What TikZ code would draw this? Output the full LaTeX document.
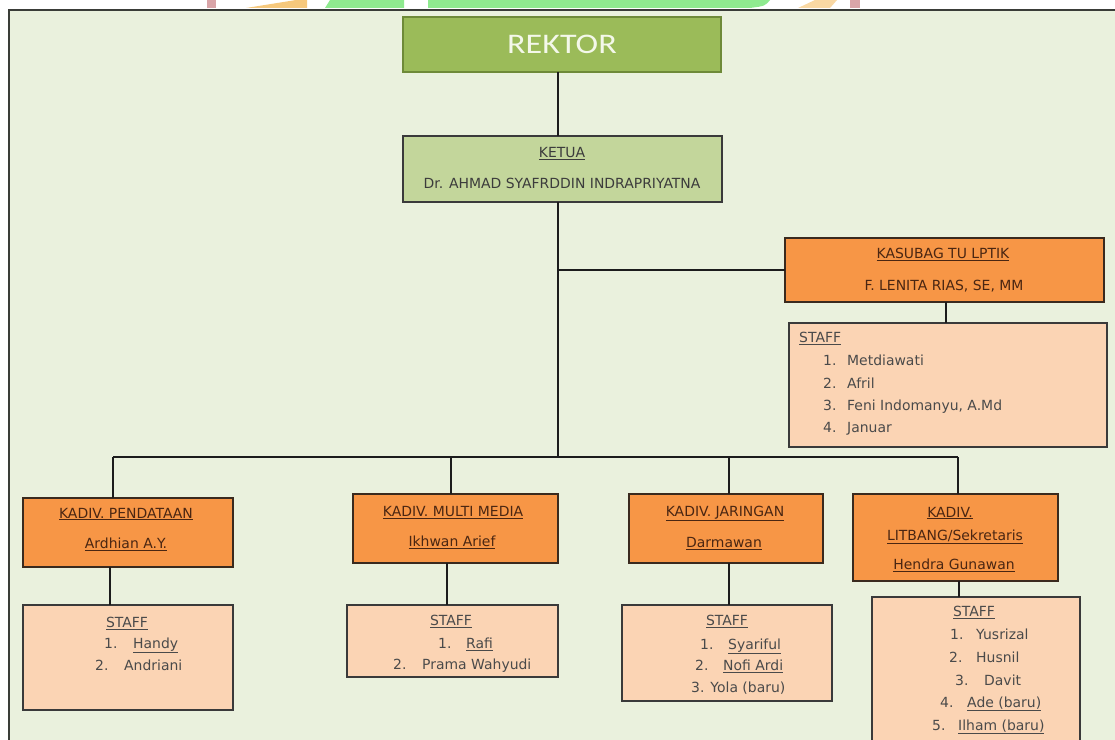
\documentclass[tikz,border=0pt]{standalone}
\usepackage{fontspec}
\setmainfont{DejaVu Sans}
\newfontfamily\headfont[FakeStretch=1.2]{Carlito}

\definecolor{bgc}{HTML}{EAF1DD}
\definecolor{framec}{HTML}{3A3D38}
\definecolor{rekfill}{HTML}{9BBB59}
\definecolor{rekline}{HTML}{6E8A38}
\definecolor{rektext}{HTML}{F4F8EA}
\definecolor{ketfill}{HTML}{C3D69B}
\definecolor{boxline}{HTML}{3A3A3A}
\definecolor{kadfill}{HTML}{F79646}
\definecolor{kadline}{HTML}{3A2A1E}
\definecolor{stafill}{HTML}{FBD4B4}
\definecolor{linkc}{HTML}{1C1C1C}
\definecolor{kettext}{HTML}{3C3C3C}
\definecolor{kadtext}{HTML}{4A2612}
\definecolor{statext}{HTML}{4A4A4A}
\definecolor{wmgreen}{HTML}{8FEA8F}
\definecolor{wmorange}{HTML}{F6C87C}
\definecolor{wmpink}{HTML}{D9A5A8}

\newcommand{\ulin}[1]{\underline{#1}}

\begin{document}
\begin{tikzpicture}[x=1bp,y=-1bp,
  box/.style={rectangle, draw, line width=1.6bp, inner sep=0pt, outer sep=0pt},
  sz/.style 2 args={minimum width=#1bp, minimum height=#2bp},
  rektorbox/.style={box, fill=rekfill, draw=rekline},
  ketuabox/.style={box, fill=ketfill, draw=boxline},
  kadivbox/.style={box, fill=kadfill, draw=kadline},
  staffbox/.style={box, fill=stafill, draw=boxline},
  link/.style={draw=linkc, line width=1.4bp},
  txt/.style={font=\fontsize{14}{16}\selectfont, inner sep=0pt, anchor=mid, yshift=-2.5bp},
  kettxt/.style={txt, text=kettext},
  kadtxt/.style={txt, text=kadtext},
  statxt/.style={txt, text=statext},
  stal/.style={txt, anchor=mid west, text=statext},
]
\useasboundingbox (0,0) rectangle (1115,740);
\clip (0,0) rectangle (1115,740);
\fill[white] (0,0) rectangle (1115,740);

% logo strip above the frame
\fill[wmpink] (207,0) rectangle (216,8);
\fill[wmorange] (246,8) -- (296,0) -- (307,0) -- (307,8) -- cycle;
\fill[wmgreen] (325,8) -- (330,0) -- (404,0) -- (404,8) -- cycle;
\fill[wmgreen] (428,0) -- (770,0) .. controls (765,6) .. (750,8) -- (428,8) -- cycle;
\fill[wmorange!70] (798,8) -- (815,0) -- (837,0) -- (830,8) -- cycle;
\fill[wmpink] (850,0) rectangle (860,8);

% frame
\fill[bgc] (9,10) rectangle (1115,740);
\draw[framec, line width=2.5bp] (9,740) -- (9,10) -- (1115,10);

% nodes
\node[rektorbox, sz={318}{55}, text=rektext, font=\headfont\fontsize{28.5}{30}\selectfont] (rektor) at (562,44.5) {REKTOR};

\node[ketuabox, sz={319}{66}] (ketua) at (562.5,169) {};
\node[kettxt] (ketuaT) at (562,152) {\ulin{KETUA}};
\node[kettxt] (ketuaN) at (562,183) {Dr. AHMAD SYAFRDDIN INDRAPRIYATNA};

\node[kadivbox, sz={319}{64}] (kasub) at (944.5,270) {};
\node[kadtxt] (kasubT) at (943,253) {\ulin{KASUBAG TU LPTIK}};
\node[kadtxt] (kasubN) at (944,285) {F. LENITA RIAS, SE, MM};

\node[staffbox, sz={318}{124}] (st0) at (948,385) {};
\node[stal] (st0h) at (799,337) {\ulin{STAFF}};
\node[stal] (st0n1) at (823,360) {1.};
\node[stal] (st0m1) at (847,360) {Metdiawati};
\node[stal] (st0n2) at (823,383) {2.};
\node[stal] (st0m2) at (847,383) {Afril};
\node[stal] (st0n3) at (823,405) {3.};
\node[stal] (st0m3) at (847,405) {Feni Indomanyu, A.Md};
\node[stal] (st0n4) at (823,427) {4.};
\node[stal] (st0m4) at (847,427) {Januar};

% divisions
\node[kadivbox, sz={210}{69}] (k1) at (128,532.5) {};
\node[kadtxt] (k1T) at (126,513) {\ulin{KADIV. PENDATAAN}};
\node[kadtxt] (k1N) at (126,543) {\ulin{Ardhian A.Y.}};

\node[kadivbox, sz={205}{69}] (k2) at (455.5,528.5) {};
\node[kadtxt] (k2T) at (453,511) {\ulin{KADIV. MULTI MEDIA}};
\node[kadtxt] (k2N) at (452,541) {\ulin{Ikhwan Arief}};

\node[kadivbox, sz={194}{69}] (k3) at (726,528.5) {};
\node[kadtxt] (k3T) at (725,511) {\ulin{KADIV. JARINGAN}};
\node[kadtxt] (k3N) at (724,542) {\ulin{Darmawan}};

\node[kadivbox, sz={205}{87}] (k4) at (955.5,537.5) {};
\node[kadtxt] (k4T) at (950,512) {\ulin{KADIV.}};
\node[kadtxt] (k4U) at (955,535) {\ulin{LITBANG/Sekretaris}};
\node[kadtxt] (k4N) at (954,564) {\ulin{Hendra Gunawan}};

% staff of each division
\node[staffbox, sz={210}{105}] (s1) at (128,657.5) {};
\node[statxt] (s1h) at (127,622) {\ulin{STAFF}};
\node[stal] (s1n1) at (104,643) {1.};
\node[stal] (s1m1) at (133,643) {\ulin{Handy}};
\node[stal] (s1n2) at (95,665) {2.};
\node[stal] (s1m2) at (124,665) {Andriani};

\node[staffbox, sz={211}{72}] (s2) at (452.5,641) {};
\node[statxt] (s2h) at (451,620) {\ulin{STAFF}};
\node[stal] (s2n1) at (438,643) {1.};
\node[stal] (s2m1) at (466,643) {\ulin{Rafi}};
\node[stal] (s2n2) at (393,664) {2.};
\node[stal] (s2m2) at (422,664) {Prama Wahyudi};

\node[staffbox, sz={210}{96}] (s3) at (727,653) {};
\node[statxt] (s3h) at (727,620) {\ulin{STAFF}};
\node[stal] (s3n1) at (700,644) {1.};
\node[stal] (s3m1) at (728,644) {\ulin{Syariful}};
\node[stal] (s3n2) at (695,665) {2.};
\node[stal] (s3m2) at (723,665) {\ulin{Nofi Ardi}};
\node[stal] (s3m3) at (691,687) {3. Yola (baru)};

\node[staffbox, sz={208}{163}] (s4) at (976,678.5) {};
\node[statxt] (s4h) at (974,611) {\ulin{STAFF}};
\node[stal] (s4n1) at (950,634) {1.};
\node[stal] (s4m1) at (976,634) {Yusrizal};
\node[stal] (s4n2) at (949,657) {2.};
\node[stal] (s4m2) at (976,657) {Husnil};
\node[stal] (s4n3) at (955,680) {3.};
\node[stal] (s4m3) at (984,680) {Davit};
\node[stal] (s4n4) at (940,702) {4.};
\node[stal] (s4m4) at (967,702) {\ulin{Ade (baru)}};
\node[stal] (s4n5) at (932,725) {5.};
\node[stal] (s4m5) at (958,725) {\ulin{Ilham (baru)}};

% connectors
\coordinate (trunk) at (558,457);
\coordinate (d1) at (113,457);
\coordinate (d2) at (451,457);
\coordinate (d3) at (729,457);
\coordinate (d4) at (958,457);
\coordinate (c0) at (946,0);
\coordinate (c1) at (110,0);
\coordinate (c2) at (447,0);
\coordinate (c3) at (729,0);
\coordinate (c4) at (959,0);

\draw[link] (rektor.south -| trunk) -- (ketua.north -| trunk);
\draw[link] (ketua.south -| trunk) -- (trunk);
\draw[link] (kasub.west -| trunk) -- (kasub.west);
\draw[link] (kasub.south -| c0) -- (st0.north -| c0);
\draw[link] (d1) -- (d4);
\draw[link] (d1) -- (d1 |- k1.north);
\draw[link] (d2) -- (d2 |- k2.north);
\draw[link] (d3) -- (d3 |- k3.north);
\draw[link] (d4) -- (d4 |- k4.north);
\draw[link] (k1.south -| c1) -- (s1.north -| c1);
\draw[link] (k2.south -| c2) -- (s2.north -| c2);
\draw[link] (k3.south -| c3) -- (s3.north -| c3);
\draw[link] (k4.south -| c4) -- (s4.north -| c4);
\end{tikzpicture}
\end{document}
